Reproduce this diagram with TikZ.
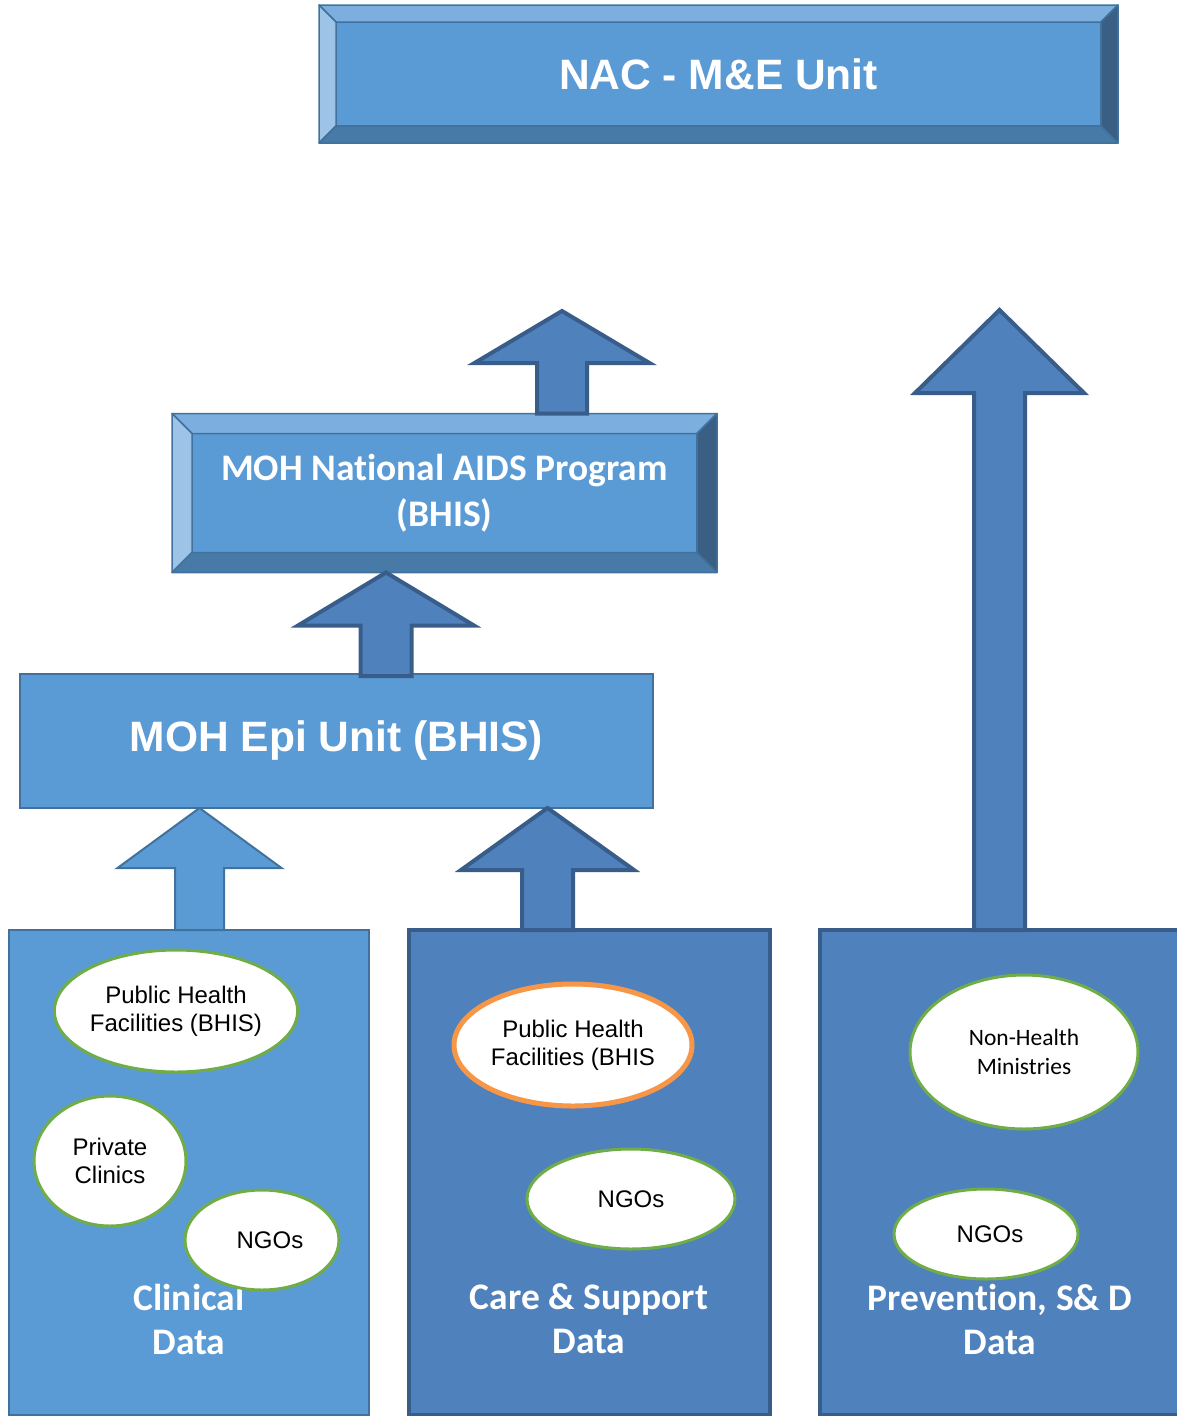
\documentclass[tikz,border=0pt]{standalone}
\usepackage{fontspec}
\setmainfont{Liberation Sans}
\newfontfamily\calibri[Ligatures=NoCommon]{Carlito}
\usetikzlibrary{shapes.geometric,calc}

\definecolor{lightblue}{HTML}{5B9BD5}
\definecolor{lightedge}{HTML}{41719C}
\definecolor{darkblue}{HTML}{4F81BD}
\definecolor{darkedge}{HTML}{385D8A}
\definecolor{bevtop}{HTML}{7CAFDF}
\definecolor{bevleft}{HTML}{9DC3E6}
\definecolor{bevbottom}{HTML}{487AA7}
\definecolor{bevright}{HTML}{395F85}
\definecolor{srcgreen}{HTML}{70AD47}
\definecolor{srcorange}{HTML}{F79646}

% bevelled frame round a face node: node, depth
\newcommand{\bevel}[2]{%
  \path ([shift={(-#2,#2)}]#1.north west) coordinate (#1-a)
        ([shift={(#2,#2)}]#1.north east) coordinate (#1-b)
        ([shift={(#2,-#2)}]#1.south east) coordinate (#1-c)
        ([shift={(-#2,-#2)}]#1.south west) coordinate (#1-d);
  \filldraw[bevelline,fill=bevtop] (#1-a) -- (#1-b) -- (#1.north east) -- (#1.north west) -- cycle;
  \filldraw[bevelline,fill=bevleft] (#1-a) -- (#1.north west) -- (#1.south west) -- (#1-d) -- cycle;
  \filldraw[bevelline,fill=bevbottom] (#1-d) -- (#1.south west) -- (#1.south east) -- (#1-c) -- cycle;
  \filldraw[bevelline,fill=bevright] (#1-b) -- (#1-c) -- (#1.south east) -- (#1.north east) -- cycle;
}
% block arrow pointing up: style, foot, tip, shaft half-width, head half-width, head length
\newcommand{\blockup}[6]{%
  \draw[#1] let \p1=(#2), \p2=(#3) in
    (\x1-#4,\y1) -- (\x1-#4,\y2-#6) -- (\x1-#5,\y2-#6) -- (\x1,\y2)
    -- (\x1+#5,\y2-#6) -- (\x1+#4,\y2-#6) -- (\x1+#4,\y1) -- cycle;
}

\begin{document}
\begin{tikzpicture}
  [x=1pt,y=-1pt,
   face/.style={rectangle,fill=lightblue,draw=lightedge,line width=1.5pt,
     inner sep=0pt,outer sep=0pt,text=white,align=center},
   bevelline/.style={draw=lightedge,line width=1.5pt,line join=round},
   plainbox/.style={rectangle,fill=lightblue,draw=lightedge,line width=2pt,
     inner sep=0pt,outer sep=0pt},
   darkbox/.style={rectangle,fill=darkblue,draw=darkedge,line width=4pt,
     inner sep=0pt,outer sep=0pt},
   source/.style={ellipse,fill=white,draw=srcgreen,line width=3pt,inner sep=0pt,
     align=center,font=\fontsize{24}{28}\selectfont},
   datalabel/.style={text=white,align=center,font=\calibri\bfseries\fontsize{37.5}{44}\selectfont},
   lightarrow/.style={fill=lightblue,draw=lightedge,line width=2pt,line join=miter},
   darkarrow/.style={fill=darkblue,draw=darkedge,line width=4pt,line join=miter}]
  \useasboundingbox (0,0) rectangle (1176,1416);

  % top levels
  \node[face,minimum width=765,minimum height=104,
        font=\bfseries\fontsize{42.5}{48}\selectfont] (nac) at (718.5,74) {NAC - M\&E Unit};
  \bevel{nac}{17pt}
  \node[face,minimum width=505,minimum height=119,
        font=\calibri\bfseries\fontsize{37.5}{46}\selectfont] (nap) at (444.5,493)
        {MOH National AIDS Program\\(BHIS)};
  \bevel{nap}{20pt}
  \node[plainbox,minimum width=633,minimum height=134,text=white,
        font=\bfseries\fontsize{42.5}{50}\selectfont] (epi) at (336.5,741) {MOH Epi Unit (BHIS)};

  % data boxes
  \node[plainbox,minimum width=360,minimum height=485] (clin) at (189,1172.5) {};
  \node[darkbox,minimum width=361,minimum height=485] (care) at (589.5,1172.5) {};
  \node[darkbox,minimum width=360,minimum height=485] (prev) at (1000,1172.5) {};
  \node[datalabel] (clinlbl) at (189,1319) {Clinical\\Data};
  \node[datalabel] (carelbl) at (589,1319) {Care \& Support\\Data};
  \node[datalabel] (prevlbl) at (1000,1319) {Prevention, S\& D\\Data};

  % sources
  \node[source,minimum width=238,minimum height=122] (clinphf) at (176,1011)
        {Public Health\\Facilities (BHIS)};
  \node[source,minimum width=152,minimum height=130] (private) at (110,1161)
        {Private\\Clinics};
  \node[source,minimum width=154,minimum height=100] (clinngo) at (262,1240)
        {\hspace*{16pt}NGOs};
  \node[source,draw=srcorange,line width=5pt,minimum width=238,minimum height=122]
        (carephf) at (573,1045) {Public Health\\Facilities (BHIS};
  \node[source,minimum width=208,minimum height=100] (carengo) at (631,1199) {NGOs};
  \node[source,minimum width=228,minimum height=154,
        font=\calibri\fontsize{23.5}{29}\selectfont] (nonhealth) at (1024,1052)
        {Non-Health\\Ministries};
  \node[source,minimum width=184,minimum height=90] (prevngo) at (986,1234)
        {\hspace*{8pt}NGOs};

  % arrows
  \coordinate (clinfoot) at (199.5,930);
  \coordinate (carefoot) at (547.5,930);
  \coordinate (prevfoot) at (999.5,930);
  \coordinate (epifoot) at (386,676);
  \coordinate (naptop) at (562,311);
  \coordinate (prevtop) at (999.5,310);
  \blockup{lightarrow}{clinfoot}{clinfoot |- epi.south}{24.5pt}{82pt}{60pt}
  \blockup{darkarrow}{carefoot}{carefoot |- epi.south}{25.5pt}{86.5pt}{62pt}
  \blockup{darkarrow}{epifoot}{epifoot |- nap-d}{25.5pt}{88pt}{53pt}
  \blockup{darkarrow}{naptop |- nap-a}{naptop}{25pt}{87.5pt}{52pt}
  \blockup{darkarrow}{prevfoot}{prevtop}{25.5pt}{84.5pt}{83pt}
\end{tikzpicture}
\end{document}
